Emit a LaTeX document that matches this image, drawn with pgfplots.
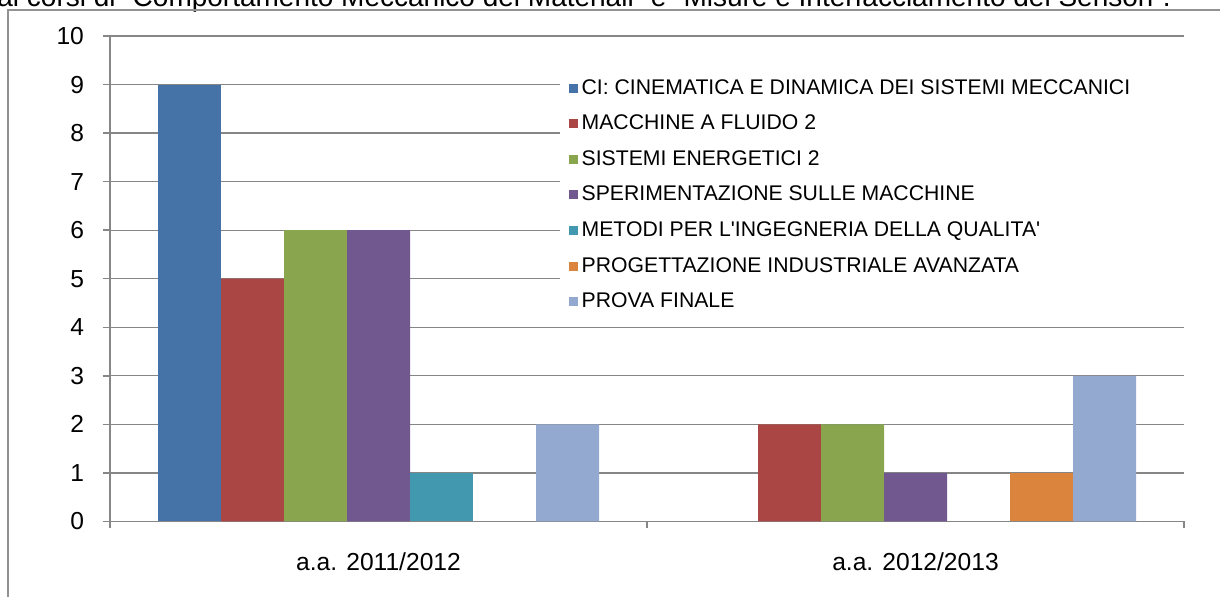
\documentclass[border=0pt]{standalone}
\usepackage{pgfplots}
\pgfplotsset{compat=1.18}
\usepackage{fontspec}
\setmainfont{Liberation Sans}
\definecolor{cA}{HTML}{4572A7}
\definecolor{cB}{HTML}{AA4643}
\definecolor{cC}{HTML}{89A54E}
\definecolor{cD}{HTML}{71588F}
\definecolor{cE}{HTML}{4198AF}
\definecolor{cF}{HTML}{DB843D}
\definecolor{cG}{HTML}{93A9CF}
\definecolor{gridc}{HTML}{868686}
\begin{document}
\begin{tikzpicture}[x=0.5pt,y=0.5pt]
\useasboundingbox (0,0) rectangle (1220,597);
\node[anchor=base west,inner sep=0pt,font=\fontsize{14pt}{16pt}\selectfont] at (-3,590) {ai corsi di \symbol{34}Comportamento Meccanico dei Materiali\symbol{34} e \symbol{34}Misure e Interfacciamento dei Sensori\symbol{34}.};
\draw[gridc!90,line width=1pt] (8,-10) -- (8,587) -- (1230,587);
\begin{axis}[
  at={(55pt,37.75pt)}, anchor=south west,
  scale only axis, width=537pt, height=242.75pt,
  ybar=0pt, bar width=31.5pt,
  xmin=-0.5, xmax=1.5, ymin=0, ymax=10,
  xtick={0,1}, xticklabels={a.a. 2011/2012, a.a. 2012/2013},
  minor xtick={-0.5,0.5,1.5},
  major x tick style={draw=none},
  minor x tick style={gridc, line width=0.7pt},
  ytick={0,...,10},
  ymajorgrids, grid style={gridc, line width=0.6pt},
  axis line style={gridc, line width=0.75pt},
  y tick style={gridc, line width=0.7pt},
  tick align=outside, major tick length=3.5pt, minor tick length=3.5pt,
  axis x line*=bottom, axis y line*=left,
  tick label style={font=\fontsize{12.3pt}{14pt}\selectfont},
  /pgf/number format/assume math mode=true,
  yticklabel style={xshift=-6pt},
  xticklabel style={yshift=-8.5pt},
  legend style={draw=none, fill=none, at={(0.4267,0.92)}, anchor=north west,
    font=\fontsize{10.6pt}{12pt}\selectfont, row sep=4.9pt, inner sep=0pt,
    /tikz/every even column/.style={column sep=-1pt}},
  legend cell align=left,
  legend image code/.code={\fill[#1,draw=none] (0pt,-2.25pt) rectangle (4.5pt,2.25pt);},
  every axis plot/.append style={draw=none},
  clip=false,
]
\addplot[fill=cA] coordinates {(0,9)};
\addplot[fill=cB] coordinates {(0,5) (1,2)};
\addplot[fill=cC] coordinates {(0,6) (1,2)};
\addplot[fill=cD] coordinates {(0,6) (1,1)};
\addplot[fill=cE] coordinates {(0,1)};
\addplot[fill=cF] coordinates {(1,1)};
\addplot[fill=cG] coordinates {(0,2) (1,3)};
\fill[white] (rel axis cs:0.419,0.934) rectangle (rel axis cs:1,0.423);
\legend{CI: CINEMATICA E DINAMICA DEI SISTEMI MECCANICI, MACCHINE A FLUIDO 2, SISTEMI ENERGETICI 2, SPERIMENTAZIONE SULLE MACCHINE, METODI PER L\textquotesingle INGEGNERIA DELLA QUALITA\textquotesingle, PROGETTAZIONE INDUSTRIALE AVANZATA, PROVA FINALE}
\end{axis}
\end{tikzpicture}
\end{document}
